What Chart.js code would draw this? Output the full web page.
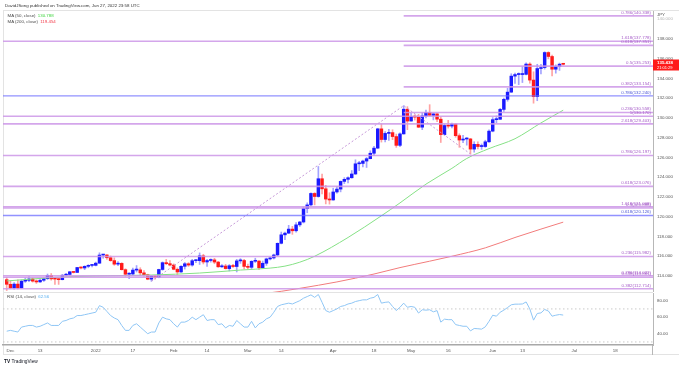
<!DOCTYPE html>
<html>
<head>
<meta charset="utf-8">
<script src="https://cdn.jsdelivr.net/npm/chart.js"></script>
<style>
  body { margin: 0; background: #fff; }
  #wrap { position: relative; width: 679px; height: 368px; overflow: hidden;
          font-family: "Liberation Sans", Arial, sans-serif; color: #4a4a4a; }
  canvas { position: absolute; left: 0; }
  .frame { position: absolute; left: 3px; top: 10px; width: 676px; height: 345px;
           border: 1px solid #e3e3e3; border-right: none; box-sizing: border-box; }
  .t { position: absolute; white-space: nowrap; font-size: 4.4px; line-height: 5px; z-index: 3; }
</style>
</head>
<body>
<div id="wrap">
  <div class="t" style="left:5px;top:2.5px;color:#333">DavidJSong published on TradingView.com, Jun 27, 2022 23:58 UTC</div>
  <div class="frame"></div>
  <canvas id="price" width="679" height="292" style="top:0"></canvas>
  <canvas id="rsi" width="679" height="76" style="top:292px"></canvas>
  <div style="position:absolute;left:652px;top:345px;width:1px;height:10px;background:#b7b7b7"></div>
  <div class="t" style="left:7.5px;top:12.5px">MA (50, close) <span style="color:#3fd43f;margin-left:1px">130.788</span></div>
  <div class="t" style="left:7.5px;top:19px">MA (200, close) <span style="color:#f23645;margin-left:1px">119.454</span></div>
  <div class="t" style="left:7px;top:293.5px">RSI (14, close) <span style="color:#5ab0f0;margin-left:1px">62.56</span></div>
  <div class="t" style="left:4px;top:358.5px;color:#131722;font-size:4.8px"><b>TV</b> TradingView</div>
</div>
<script>
// daily USD/JPY candles, Nov 30 2021 .. Jun 28 2022 (weekdays, x = 1..151)
const opens = [
  113.63,113.16,112.80,113.18,
  112.79,113.48,113.56,113.70,113.48, 113.40,113.57,113.73,114.07,113.71,
  113.69,113.63,114.08,114.16,114.43, 114.36,114.86,114.81,114.98,115.07,
  115.08,115.30,116.12,116.13,115.85, 115.56,115.20,115.28,114.64,114.18,
  114.20,114.60,114.62,114.32,114.13, 113.68,113.97,113.87,114.66,115.35,
  115.25,115.11,114.68,114.41,114.98, 115.24,115.11,115.55,115.55,116.04,
  115.42,115.57,115.63,115.41,114.93, 115.01,114.75,115.04,114.96,115.53,
  115.57,114.97,114.88,115.49,115.52, 114.83,115.29,115.73,115.83,116.13,
  117.31,118.17,118.34,118.75,118.58, 119.18,119.47,120.82,121.20,122.36,
  122.05,123.85,122.83,121.79,121.70, 122.51,122.80,123.58,123.79,123.95,
  124.33,125.36,125.40,125.64,125.88, 126.43,126.95,128.90,127.82,128.44,
  128.52,128.12,127.23,128.39,130.89, 129.69,130.16,130.09,129.07,130.21,
  130.56,130.27,130.42,129.88,128.32, 129.24,129.18,129.38,128.21,127.77,
  127.87,127.88,126.85,127.33,127.11, 127.11,127.59,128.67,129.83,129.87,
  130.87,131.89,132.62,134.24,134.40, 134.40,134.42,135.46,133.84,132.17,
  135.01,135.11,136.63,136.23,134.94, 135.21,135.45
];
const highs = [
  113.87,113.48,113.33,113.62,
  113.60,113.80,113.94,113.80,113.60, 113.72,113.80,114.20,114.25,113.78,
  113.75,114.15,114.28,114.44,114.46, 114.88,114.94,115.04,115.15,115.16,
  115.41,116.35,116.20,116.17,116.03, 115.84,115.46,115.35,114.73,114.35,
  114.80,115.06,114.84,114.56,114.18, 114.05,114.08,114.69,115.43,115.68,
  115.55,115.23,114.82,115.05,115.37, 115.35,115.69,115.66,116.34,116.20,
  115.69,115.74,115.79,115.48,115.16, 115.18,115.16,115.19,115.69,115.76,
  115.70,115.21,115.55,115.80,115.54, 115.52,115.81,115.92,116.22,117.35,
  118.45,118.45,119.13,119.03,119.42, 119.53,120.99,121.41,122.42,122.44,
  125.09,124.31,123.18,122.43,122.89, 123.07,123.63,123.96,124.05,124.68,
  125.77,125.60,125.74,126.00,126.68, 127.12,128.96,129.41,128.63,128.84,
  128.81,128.37,128.51,131.25,131.15, 130.49,130.33,130.37,130.51,130.80,
  131.35,130.46,130.45,130.12,129.39, 129.76,129.48,129.46,128.40,128.25,
  128.03,127.94,127.60,127.58,127.37, 127.75,128.80,130.04,130.21,130.98,
  132.02,133.00,134.48,134.56,134.57, 135.19,135.59,135.60,134.68,135.44,
  135.44,136.71,136.71,136.37,135.38, 135.56,135.47
];
const lows = [
  112.53,112.70,112.66,112.68,
  112.75,113.35,113.43,113.38,113.25, 113.34,113.45,113.65,113.58,113.14,
  113.15,113.60,113.98,114.07,114.30, 114.35,114.72,114.64,114.83,114.93,
  115.02,115.27,115.80,115.67,115.49, 115.08,115.05,114.60,113.97,113.73,
  114.13,114.40,114.05,113.95,113.62, 113.47,113.69,113.82,114.58,115.15,
  115.03,114.63,114.15,114.36,114.70, 114.97,114.99,115.34,115.17,115.22,
  114.96,115.40,115.24,114.88,114.86, 114.70,114.51,114.86,114.41,115.28,
  114.72,114.68,114.72,115.36,114.65, 114.82,115.07,115.63,115.73,116.06,
  117.25,117.69,118.29,118.22,118.45, 119.02,119.37,120.40,121.10,121.20,
  121.98,122.30,121.30,121.28,121.67, 122.38,122.52,123.36,123.42,123.90,
  124.28,124.67,125.04,124.99,125.86, 126.20,126.90,127.56,127.57,127.74,
  127.81,127.03,127.10,128.36,128.82, 129.68,129.79,129.02,128.82,130.01,
  130.23,129.81,129.63,127.52,128.26, 128.98,128.99,128.05,127.03,127.50,
  127.25,126.36,126.54,126.86,126.82, 127.03,127.52,128.60,129.52,129.86,
  130.67,131.70,132.58,133.49,133.38, 133.59,134.37,133.52,131.50,131.75,
  134.47,134.95,135.99,134.27,134.54, 134.82,135.37
];
const closes = [
  113.16,112.80,113.18,112.79,
  113.48,113.56,113.70,113.48,113.40, 113.57,113.73,114.07,113.71,113.69,
  113.63,114.08,114.16,114.43,114.36, 114.86,114.81,114.98,115.07,115.08,
  115.30,116.12,116.13,115.85,115.56, 115.20,115.28,114.64,114.18,114.20,
  114.60,114.62,114.32,114.13,113.68, 113.97,113.87,114.66,115.35,115.25,
  115.11,114.68,114.41,114.98,115.24, 115.11,115.55,115.55,116.04,115.42,
  115.57,115.63,115.41,114.93,115.01, 114.75,115.04,114.96,115.53,115.57,
  114.97,114.88,115.49,115.52,114.83, 115.29,115.73,115.83,116.13,117.31,
  118.17,118.34,118.75,118.58,119.18, 119.47,120.82,121.20,122.36,122.05,
  123.85,122.83,121.79,121.70,122.51, 122.80,123.58,123.79,123.95,124.33,
  125.36,125.40,125.64,125.88,126.43, 126.95,128.90,127.82,128.44,128.52,
  128.12,127.23,128.39,130.89,129.69, 130.16,130.09,129.07,130.21,130.56,
  130.27,130.42,129.88,128.32,129.24, 129.18,129.38,128.21,127.77,127.87,
  127.88,126.85,127.33,127.11,127.11, 127.59,128.67,129.83,129.87,130.87,
  131.89,132.62,134.24,134.40,134.40, 134.42,135.46,133.84,132.17,135.01,
  135.11,136.63,136.23,134.94,135.21, 135.45,135.438
];
const rsiValues = [
  43,44,43,42,
  48,49,50,50,48, 49,51,53,50,50,
  50,55,56,58,59, 62,62,63,64,65,
  66,74,72,67,62, 59,57,50,44,44,
  50,52,48,44,40, 42,42,53,60,58,
  57,52,48,54,54, 56,60,57,60,63,
  56,57,57,51,52, 47,50,49,56,52,
  48,48,55,47,52, 54,58,60,66,73,
  75,76,77,76,78, 80,83,85,87,84,
  87.5,78,68,66,68, 70,73,74,76,77,
  79,80,81,81,83, 84,87.5,77,78,78.5,
  73,68,72,77,72, 73,72,65,69,68.5,
  69,66.5,68,54,57.6, 57,57,51,50,49,
  49,43.4,46.3,46,45.5, 48.3,55,62.4,61.2,66,
  68.5,71.7,75,75.8,75.8, 76,78.5,70,56.4,64.5,
  65.2,69.3,67.5,61.2,62.4, 63.2,62.56
];

// moving averages (x position, value)
const ma50X = [1, 8, 16, 25, 40, 53, 64, 72, 76, 80, 84, 93, 102, 107, 114, 121, 125, 131, 138, 145, 151];
const ma50Val = [113.5, 113.7, 113.9, 114.0, 114.1, 114.3, 114.6, 114.8, 115.0, 115.4, 116.0, 117.9, 120.1, 121.4, 123.3, 124.9, 125.9, 126.9, 127.9, 129.5, 130.788];
const ma200X = [70, 75, 80, 90, 100, 107, 115, 121, 130, 138, 145, 151];
const ma200Val = [112.2, 112.45, 112.75, 113.4, 114.2, 114.85, 115.5, 116.0, 116.85, 117.9, 118.75, 119.454];

// fibonacci levels
const fibLevels = [140.338, 137.778, 137.351, 135.253, 133.154, 132.240, 130.558, 130.170, 129.403,
                   126.197, 123.076, 121.008, 120.888, 120.126, 115.982, 114.022, 113.881, 112.714];
const fibLabels = ['0.786(140.338)', '1.618(137.778)', '0.618(137.351)', '0.5(135.253)', '0.382(133.154)',
                   '0.786(132.240)', '0.236(130.558)', '1(130.170)', '2.618(129.403)', '0.786(126.197)',
                   '0.618(123.076)', '1.618(121.008)', '0.5(120.888)', '0.618(120.126)', '0.236(115.982)',
                   '0.786(114.022)', '0.618(113.881)', '0.382(112.714)'];
const fibStart = [108, 0, 108, 108, 108, 0, 108, 0, 0, 0, 0, 0, 0, 0, 0, 0, 0, 0];
const fibBlue = [5, 13];
const trendX = [40, 108, 126];
const trendY = [113.47, 131.25, 126.36];

const priceTicks = [140, 138, 136, 134, 132, 130, 128, 126, 124, 122, 120, 118, 116, 114];
const rsiTicks = [80, 60, 40];
const tickIdx = [2, 10, 25, 35, 46, 55, 66, 75, 89, 100, 110, 120, 132, 140, 154, 165];
const tickText = ['Dec', '13', '2022', '17', 'Feb', '14', 'Mar', '14', 'Apr', '18', 'May', '16', 'Jun', '13', 'Jul', '18'];

const FONT = '"Liberation Sans", Arial, sans-serif';
const X_MAX = 175.2;
Chart.defaults.font.family = FONT;

const isUp = closes.map((c, i) => c >= opens[i]);
const bodies = opens.map((o, i) => ({x: i + 1, y: [o, closes[i]]}));
const wicks = highs.map((h, i) => ({x: i + 1, y: [lows[i], h]}));

const fibSets = fibLevels.map((v, i) => ({
  type: 'line',
  data: [{x: fibStart[i], y: v}, {x: X_MAX, y: v}],
  borderColor: fibBlue.includes(i) ? 'rgba(110,110,255,0.75)' : 'rgba(205,150,232,0.85)',
  borderWidth: fibBlue.includes(i) ? 1.4 : 1.6,
  pointRadius: 0,
  order: 0
}));

const fibText = {
  id: 'fibText',
  afterDatasetsDraw(chart) {
    const {ctx, chartArea, scales} = chart;
    ctx.save();
    ctx.font = '4.4px ' + FONT;
    ctx.textAlign = 'right';
    ctx.textBaseline = 'bottom';
    fibLevels.forEach((v, i) => {
      ctx.fillStyle = fibBlue.includes(i) ? '#4b55d6' : '#a65cc8';
      ctx.fillText(fibLabels[i], chartArea.right - 2, scales.y.getPixelForValue(v) - 1.2);
    });
    // last price tag
    const last = closes[closes.length - 1];
    const y = scales.y.getPixelForValue(last);
    ctx.fillStyle = '#ff1a1a';
    ctx.fillRect(chartArea.right, y - 4.8, 26, 11);
    ctx.fillStyle = '#fff';
    ctx.textAlign = 'left';
    ctx.textBaseline = 'middle';
    ctx.font = 'bold 4.4px ' + FONT;
    ctx.fillText(last.toFixed(3), chartArea.right + 4, y - 1.8);
    ctx.font = '4px ' + FONT;
    ctx.fillText('21:01:29', chartArea.right + 4, y + 3.4);
    ctx.fillStyle = '#555';
    ctx.font = '4.4px ' + FONT;
    ctx.fillText('JPY', chartArea.right + 4, 14.5);
    ctx.restore();
  }
};

new Chart(document.getElementById('price'), {
  type: 'bar',
  data: {
    datasets: [
      { type: 'line', data: ma50X.map((x, i) => ({x, y: ma50Val[i]})), borderColor: '#86e186',
        borderWidth: 1, pointRadius: 0, cubicInterpolationMode: 'monotone', order: 1 },
      { type: 'line', data: ma200X.map((x, i) => ({x, y: ma200Val[i]})), borderColor: '#f27c7c',
        borderWidth: 1, pointRadius: 0, cubicInterpolationMode: 'monotone', order: 1 },
      { type: 'line', data: trendX.map((x, i) => ({x, y: trendY[i]})), borderColor: '#c79ad9',
        borderWidth: 1, borderDash: [2, 2], pointRadius: 0, order: 1 },
      { data: bodies, backgroundColor: isUp.map(u => u ? '#1a1aff' : '#ff1a1a'),
        barThickness: 2.8, minBarLength: 1, grouped: false, order: 2 },
      { data: wicks, backgroundColor: isUp.map(u => u ? '#a3a3ff' : '#ffa3a3'),
        barThickness: 1, grouped: false, order: 3 },
      ...fibSets
    ]
  },
  options: {
    responsive: false,
    animation: false,
    events: [],
    layout: { padding: { left: 3, top: 11, right: 0, bottom: 0 } },
    plugins: { legend: { display: false }, tooltip: { enabled: false } },
    scales: {
      x: { type: 'linear', min: 0, max: X_MAX, offset: false, display: false },
      y: {
        position: 'right', min: 112.38, max: 140.835,
        grid: { display: false, drawTicks: false },
        border: { display: true, color: '#b7b7b7' },
        afterBuildTicks: s => { s.ticks = priceTicks.map(v => ({value: v})); },
        afterFit: s => { s.width = 26; s.paddingTop = 0; s.paddingBottom = 0; },
        ticks: {
          padding: 4, font: { size: 4.4 },
          color: c => (c.tick && c.tick.value === 140) ? '#b5b5b5' : '#555',
          callback: v => v.toFixed(3)
        }
      }
    }
  },
  plugins: [fibText]
});

const paneLine = {
  id: 'paneLine',
  afterDraw(chart) {
    const {ctx, chartArea} = chart;
    ctx.save();
    ctx.strokeStyle = '#e3e3e3';
    ctx.lineWidth = 1;
    ctx.beginPath();
    ctx.moveTo(3, chartArea.top - 0.5);
    ctx.lineTo(chartArea.right, chartArea.top - 0.5);
    ctx.stroke();
    ctx.restore();
  }
};

new Chart(document.getElementById('rsi'), {
  type: 'line',
  data: {
    datasets: [
      { data: rsiValues.map((v, i) => ({x: i + 1, y: v})), borderColor: '#8fc6f5', borderWidth: 1, pointRadius: 0 },
      { data: [{x: 0, y: 70}, {x: X_MAX, y: 70}], borderColor: '#c9c9c9', borderWidth: 1, borderDash: [1.5, 2.5], pointRadius: 0 },
      { data: [{x: 0, y: 30}, {x: X_MAX, y: 30}], borderColor: '#c9c9c9', borderWidth: 1, borderDash: [1.5, 2.5], pointRadius: 0 }
    ]
  },
  options: {
    responsive: false,
    animation: false,
    events: [],
    layout: { padding: { left: 3, top: 1, right: 0, bottom: 0 } },
    plugins: { legend: { display: false }, tooltip: { enabled: false } },
    scales: {
      x: {
        type: 'linear', min: 0, max: X_MAX, offset: false,
        grid: { display: false, drawTicks: false },
        border: { display: true, color: '#a8a8a8', width: 1.5 },
        afterBuildTicks: s => { s.ticks = tickIdx.map(v => ({value: v})); },
        afterFit: s => { s.height = 23; s.paddingLeft = 0; s.paddingRight = 0; },
        ticks: {
          padding: 3, autoSkip: false, maxRotation: 0, font: { size: 4.4 }, color: '#555',
          callback: v => tickText[tickIdx.indexOf(v)]
        }
      },
      y: {
        position: 'right', min: 26.3, max: 89.3,
        grid: { display: false, drawTicks: false },
        border: { display: true, color: '#b7b7b7' },
        afterBuildTicks: s => { s.ticks = rsiTicks.map(v => ({value: v})); },
        afterFit: s => { s.width = 26; s.paddingTop = 0; s.paddingBottom = 0; },
        ticks: { padding: 4, font: { size: 4.4 }, color: '#555', callback: v => v.toFixed(2) }
      }
    }
  },
  plugins: [paneLine]
});
</script>
</body>
</html>
